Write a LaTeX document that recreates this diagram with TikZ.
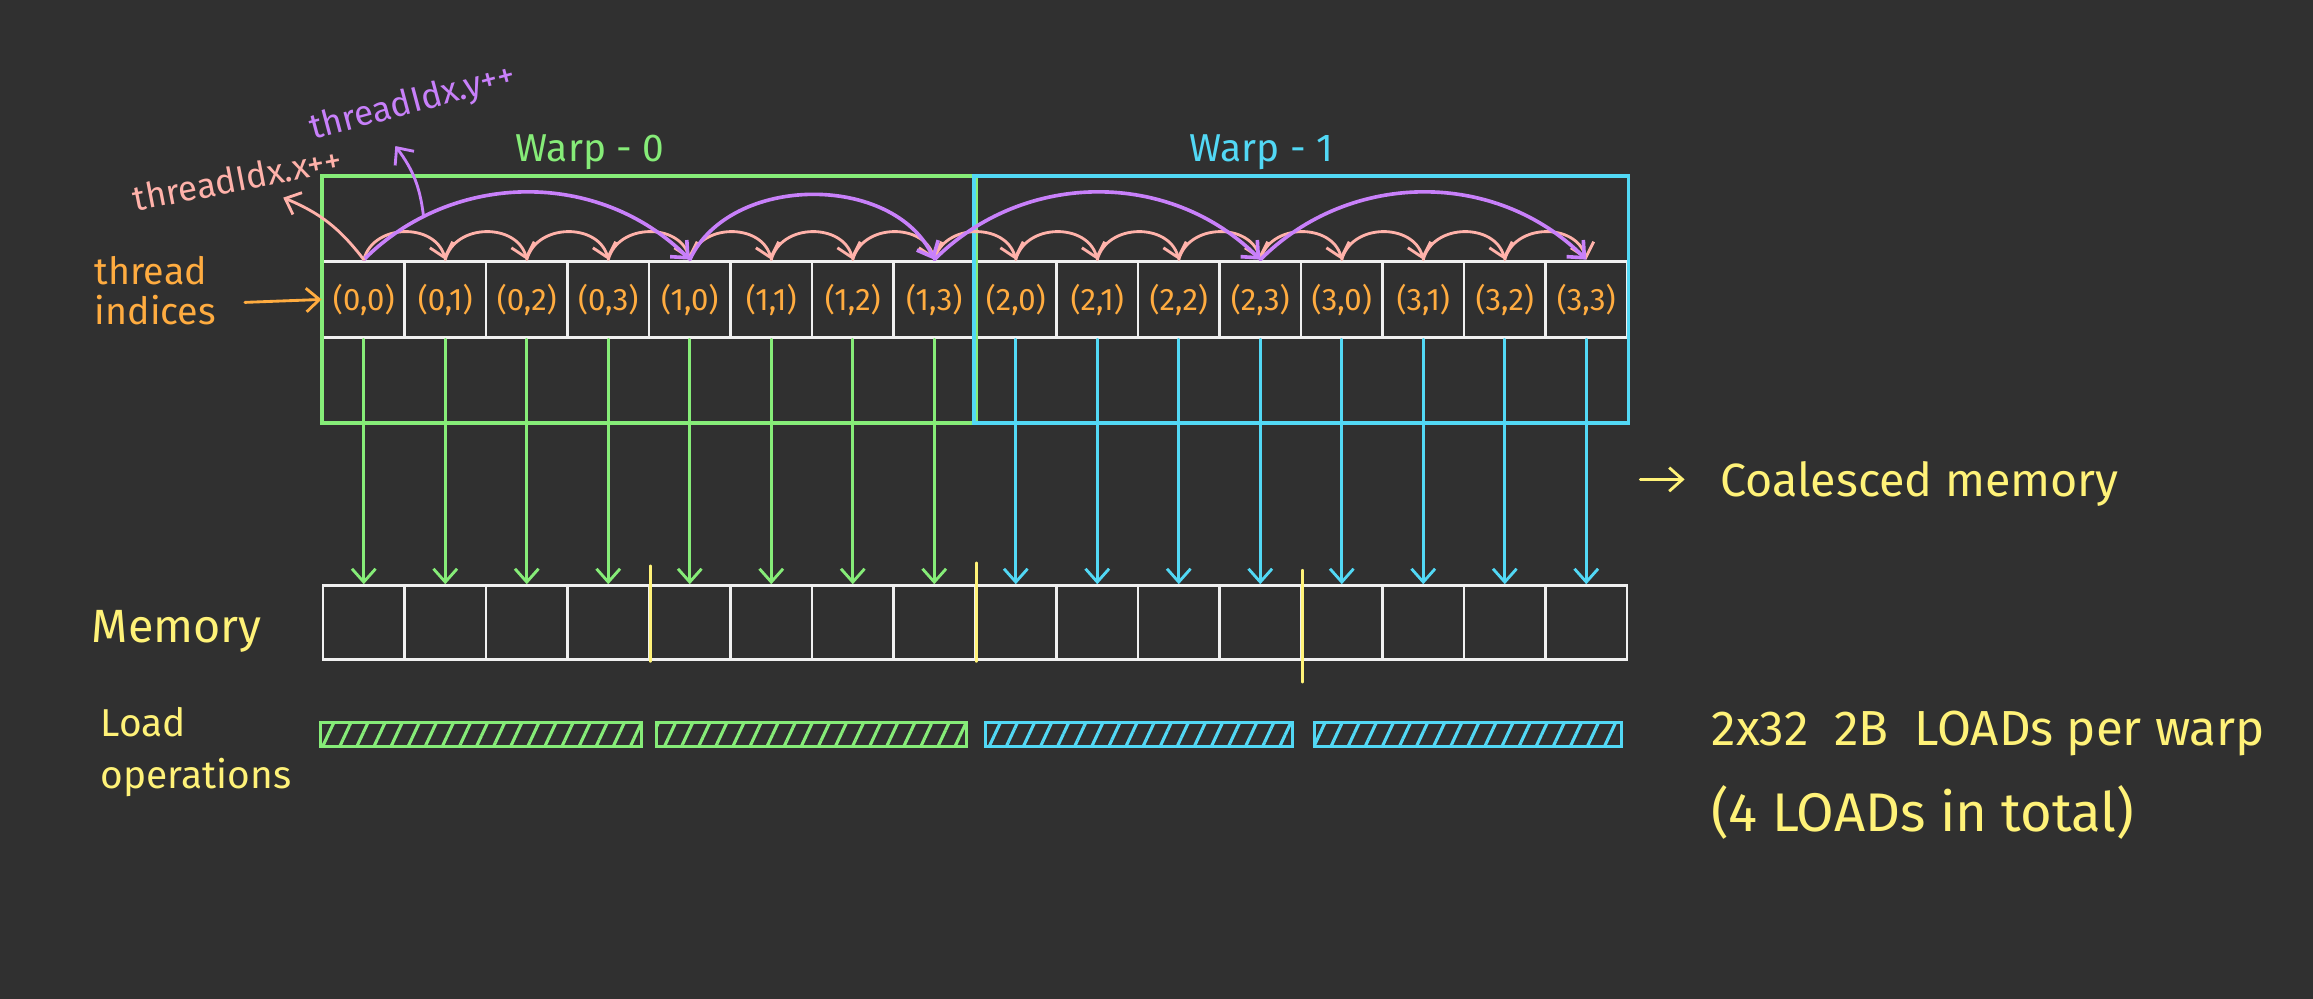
\documentclass[tikz,border=0pt]{standalone}
\usepackage{fontspec}
\setmainfont{Fira Sans}
\usetikzlibrary{arrows.meta,calc,fit,patterns.meta}
\definecolor{board}{RGB}{48,48,48}
\definecolor{chalk}{RGB}{240,240,240}
\definecolor{warpa}{RGB}{134,236,120}
\definecolor{warpb}{RGB}{82,216,245}
\definecolor{idx}{RGB}{255,172,64}
\definecolor{xinc}{RGB}{255,178,170}
\definecolor{yinc}{RGB}{200,128,250}
\definecolor{note}{RGB}{255,242,120}

\begin{document}
\begin{tikzpicture}[x=0.2mm, y=0.2mm, line cap=round, >={Straight Barb[length=1.8mm,width=3.2mm]}]
    \tikzstyle{cell}=[rectangle, draw=chalk, line width=1.1pt, minimum width=11.05mm, minimum height=10.4mm, inner sep=0pt, text=idx, font=\fontsize{12}{14}\selectfont]
    \tikzstyle{mem}=[cell, minimum height=10mm]
    \tikzstyle{warp}=[rectangle, line width=1.5pt, inner xsep=0pt, inner ysep=11.4mm]
    \tikzstyle{load}=[rectangle, line width=1.2pt, minimum height=3.2mm, inner sep=0pt, pattern={Lines[angle=65,distance=2.1mm,line width=1.2pt]}]
    \tikzstyle{hand}=[inner sep=0pt, align=left, text=note]
    \tikzstyle{hop}=[->, line width=1.1pt]
    \fill[board] (0,0) rectangle (1568,-677);
    \useasboundingbox (0,0) rectangle (1568,-677);

    \foreach \a in {0,...,3}
      \foreach \b in {0,...,3} {
        \pgfmathtruncatemacro{\i}{4*\a+\b}
        \node[cell] (t\i) at ({246.6+55.25*\i},-203) {(\a,\b)};
        \node[mem] (m\i) at ({246.6+55.25*\i},-422) {};
      }
    \node[warp, draw=warpa, fit=(t0)(t7)] (w0) {};
    \node[warp, draw=warpb, fit=(t8)(t15)] (w1) {};
    \node[text=warpa, font=\fontsize{15}{18}\selectfont] (w0lbl) at (400,-103) {Warp - 0};
    \node[text=warpb, font=\fontsize{15}{18}\selectfont] (w1lbl) at (855,-103) {Warp - 1};

    \foreach \i in {0,...,7}
      \draw[hop, warpa] (t\i.south) -- (m\i.north);
    \foreach \i in {8,...,15}
      \draw[hop, warpb] (t\i.south) -- (m\i.north);
    \foreach \i in {0,...,14} {
      \pgfmathtruncatemacro{\j}{\i+1}
      \draw[hop, xinc] (t\i.north) to[out=75, in=105, looseness=1.2] (t\j.north);
    }
    \draw[hop, yinc, line width=1.4pt] (t0.north) to[out=45, in=135] coordinate[pos=0.2] (yup) (t4.north);
    \draw[hop, yinc, line width=1.4pt] (t4.north) to[out=65, in=115] (t7.north);
    \draw[hop, yinc, line width=1.4pt] (t7.north) to[out=45, in=135] (t11.north);
    \draw[hop, yinc, line width=1.4pt] (t11.north) to[out=45, in=135] (t15.north);

    \coordinate (yend) at (268,-99);
    \draw[hop, yinc] (yup) to[bend right=15] (yend);
    \node[hand, text=yinc, rotate=15, font=\fontsize{13.5}{15}\selectfont] (ylbl) at (280,-70) {threadIdx.y++};
    \coordinate (xend) at (192,-134);
    \draw[hop, xinc] (t0.north) to[bend right=15] (xend);
    \node[hand, text=xinc, rotate=11, font=\fontsize{13.5}{15}\selectfont] (xlbl) at (161,-121) {threadIdx.x++};

    \node[hand, text=idx, anchor=west, font=\fontsize{14.5}{15.5}\selectfont] (thr) at (64,-197) {thread\\indices};
    \coordinate (thrtail) at (166,-205);
    \draw[hop, idx] (thrtail) -- (t0.west);

    \node[hand, anchor=west, font=\fontsize{18}{20}\selectfont] (memlbl) at (62,-428) {Memory};
    \node[hand, anchor=west, font=\fontsize{15}{20}\selectfont] (ldlbl) at (68,-510) {Load\\operations};
    \draw[note, line width=1.5pt] ($(m3.north east)+(0,12)$) -- (m3.south east);
    \draw[note, line width=1.5pt] ($(m7.north east)+(0,14)$) -- (m7.south east);
    \draw[note, line width=1.5pt] ($(m11.north east)+(0,9)$) -- ($(m11.south east)+(0,-14)$);

    \node[load, draw=warpa, pattern color=warpa, minimum width=43.6mm] (ld0) at (326,-498) {};
    \node[load, draw=warpa, pattern color=warpa, minimum width=42mm] (ld1) at (550,-498) {};
    \node[load, draw=warpb, pattern color=warpb, minimum width=41.6mm] (ld2) at (772,-498) {};
    \node[load, draw=warpb, pattern color=warpb, minimum width=41.6mm] (ld3) at (995,-498) {};

    \coordinate (cmtail) at (1112,-325);
    \coordinate (cmhead) at (1142,-325);
    \draw[hop, note] (cmtail) -- (cmhead);
    \node[hand, anchor=west, font=\fontsize{18}{20}\selectfont] (coal) at (1166,-328) {Coalesced memory};
    \node[hand, anchor=west, font=\fontsize{19}{21}\selectfont] (perwarp) at (1160,-497) {2x32\ \ 2B\ \ LOADs per warp};
    \node[hand, anchor=west, font=\fontsize{21}{23}\selectfont] (total) at (1160,-551) {(4 LOADs in total)};
\end{tikzpicture}
\end{document}
